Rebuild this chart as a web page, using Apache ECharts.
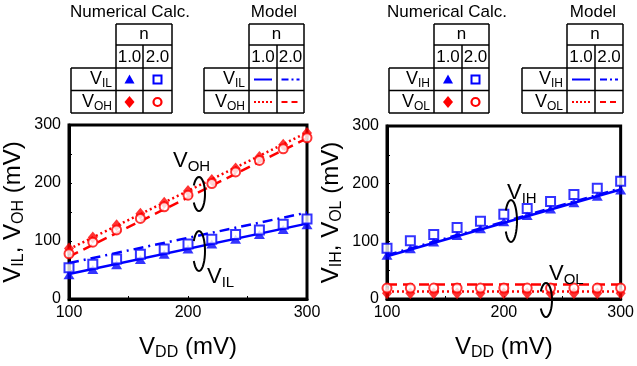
<!DOCTYPE html>
<html>
<head>
<meta charset="utf-8">
<script src="https://cdn.jsdelivr.net/npm/echarts@6/dist/echarts.min.js"></script>
<style>html,body{margin:0;padding:0;background:#fff}#chart{width:637px;height:366px}</style>
</head>
<body>
<div id="chart"></div>
<script>
// supply voltage (mV)
const vdd = [100, 120, 140, 160, 180, 200, 220, 240, 260, 280, 300];
const xTicks = [100, 200, 300];
const yTicks = [0, 100, 200, 300];

// numerical calc, left panel
const vilN1 = [42, 51, 59, 68, 77, 86, 95, 103, 111, 120, 128];
const vilN2 = [54, 60, 69, 77, 86, 95, 103, 111, 119, 129, 138];
const vohN1 = [87, 106, 127, 147, 166, 186, 205, 225, 245, 266, 286];
const vohN2 = [78, 98, 119, 139, 159, 179, 199, 219, 239, 259, 278];
// numerical calc, right panel
const vihN1 = [76, 87, 99, 110, 122, 134, 145, 156, 167, 178, 189];
const vihN2 = [88, 101, 112, 124, 135, 147, 157, 169, 181, 192, 204];
const volN1 = [10, 10, 10, 10, 10, 10, 10, 10, 10, 10, 10];
const volN2 = [19, 19, 19, 19, 19, 19, 19, 19, 19, 19, 19];

// model (straight lines, end points)
const modelX = [100, 300];
const vilModelN1 = [43, 130];
const vilModelN2 = [62, 149];
const vohModelN1 = [86, 287];
const vohModelN2 = [73, 277];
const vihModelN1 = [74, 190];
const vihModelN2 = [76, 192];
const volModelN1 = [13, 13];
const volModelN2 = [25, 25];

const BLUE = '#0000ff', RED = '#ff0000';
const FONT = 'Arial, "Liberation Sans", sans-serif';

const pairs = (xs, ys) => xs.map((x, i) => [x, ys[i]]);

let chart = echarts.init(document.getElementById('chart'), null, { renderer: 'canvas' });

const subRich = (big, small, drop) => ({
  a: { fontSize: big, fontFamily: FONT, color: '#000' },
  b: { fontSize: small, fontFamily: FONT, color: '#000', padding: [drop, 0, 0, 0] }
});

function xAxisOf(i) {
  return {
    gridIndex: i, type: 'value', min: xTicks[0], max: xTicks[xTicks.length - 1], interval: 100,
    axisLine: { lineStyle: { color: '#000', width: 3 } },
    axisTick: { inside: true, length: 3, lineStyle: { color: '#000' } },
    minorTick: { show: true, splitNumber: 2, length: 3, lineStyle: { color: '#000' } },
    splitLine: { show: false },
    axisLabel: { fontSize: 16, color: '#000', fontFamily: FONT, margin: 6 },
    name: '{a|V}{b|DD}{a| (mV)}', nameLocation: 'middle', nameGap: 34,
    nameTextStyle: { rich: subRich(24, 16, 12) }
  };
}
function yAxisOf(i, name) {
  return {
    gridIndex: i, type: 'value', min: yTicks[0], max: yTicks[yTicks.length - 1], interval: 100,
    axisLine: { lineStyle: { color: '#000', width: 3 } },
    axisTick: { inside: true, length: 3, lineStyle: { color: '#000' } },
    minorTick: { show: true, splitNumber: 2, length: 3, lineStyle: { color: '#000' } },
    splitLine: { show: false },
    axisLabel: { fontSize: 16, color: '#000', fontFamily: FONT, margin: 8 },
    name: name, nameLocation: 'middle', nameRotate: 90, nameGap: 42,
    nameTextStyle: { rich: subRich(24, 16, 12) }
  };
}

function marks(i, ys, kind) {
  const s = { type: 'scatter', xAxisIndex: i, yAxisIndex: i, data: pairs(vdd, ys), clip: false, z: 5 };
  if (kind === 'tri') Object.assign(s, { symbol: 'triangle', symbolSize: [11, 9], itemStyle: { color: BLUE } });
  if (kind === 'sq') Object.assign(s, { symbol: 'rect', symbolSize: 9, itemStyle: { color: '#fff', borderColor: BLUE, borderWidth: 2 } });
  if (kind === 'dia') Object.assign(s, { symbol: 'diamond', symbolSize: [10, 12], itemStyle: { color: RED } });
  if (kind === 'cir') Object.assign(s, { symbol: 'circle', symbolSize: 9, itemStyle: { color: '#fff', borderColor: RED, borderWidth: 2 } });
  return s;
}
function model(i, ys, color, type) {
  return {
    type: 'line', xAxisIndex: i, yAxisIndex: i, data: pairs(modelX, ys), showSymbol: false, z: 3,
    lineStyle: { color: color, width: 2.5, type: type }
  };
}

const DOT = [2, 3], DASH = [10, 6], DASHDOT = [10, 5, 2, 5];

// ---- legend tables (graphic) ----
const graphics = [];
const line = (x1, y1, x2, y2) => graphics.push({ type: 'line', shape: { x1, y1, x2, y2 }, style: { stroke: '#000', lineWidth: 1.5 } });
const text = (x, y, t, size, align) => graphics.push({ type: 'text', style: { x, y, text: t, font: size + 'px ' + FONT, fill: '#000', align: align || 'center', verticalAlign: 'middle' } });
const subText = (x, y, v, sub) => graphics.push({
  type: 'text', style: { x, y, text: '{a|' + v + '}{b|' + sub + '}', rich: subRich(18, 12, 9), align: 'right', verticalAlign: 'middle' }
});

const R = [24, 45, 68, 90.5, 113];
function table(xs, title, titleX, rowA, rowB, cells) {
  const [x0, x1, x2, x3] = xs;
  text(titleX, 12, title, 17);
  line(x1, R[0], x3, R[0]);
  line(x1, R[1], x3, R[1]);
  line(x0, R[2], x3, R[2]);
  line(x0, R[3], x3, R[3]);
  line(x0, R[4], x3, R[4]);
  line(x0, R[2], x0, R[4]);
  line(x1, R[0], x1, R[4]);
  line(x3, R[0], x3, R[4]);
  line(x2, R[1], x2, R[4]);
  text((x1 + x3) / 2, 34.5, 'n', 17);
  text((x1 + x2) / 2, 57, '1.0', 17);
  text((x2 + x3) / 2, 57, '2.0', 17);
  subText(x1 - 4, 79.5, 'V', rowA);
  subText(x1 - 4, 102, 'V', rowB);
  cells((x1 + x2) / 2, (x2 + x3) / 2, 79.5, 102);
}
const markCells = (c1, c2, ya, yb) => {
  graphics.push({ type: 'polygon', shape: { points: [[c1 - 5, ya + 4], [c1 + 5, ya + 4], [c1, ya - 5]] }, style: { fill: BLUE } });
  graphics.push({ type: 'rect', shape: { x: c2 - 4, y: ya - 4, width: 8, height: 8 }, style: { fill: '#fff', stroke: BLUE, lineWidth: 2 } });
  graphics.push({ type: 'polygon', shape: { points: [[c1, yb - 6], [c1 + 5, yb], [c1, yb + 6], [c1 - 5, yb]] }, style: { fill: RED } });
  graphics.push({ type: 'circle', shape: { cx: c2, cy: yb, r: 4 }, style: { fill: '#fff', stroke: RED, lineWidth: 2.2 } });
};
const lineCells = (c1, c2, ya, yb) => {
  const seg = (cx, y, color, dash) => graphics.push({
    type: 'line', shape: { x1: cx - 9, y1: y, x2: cx + 9, y2: y }, style: { stroke: color, lineWidth: 2, lineDash: dash }
  });
  seg(c1, ya, BLUE, null);
  seg(c2, ya, BLUE, [7, 3, 2, 3]);
  seg(c1, yb, RED, [2, 2]);
  seg(c2, yb, RED, [6, 4]);
};
table([71, 116, 143, 172], 'Numerical Calc.', 130, 'IL', 'OH', markCells);
table([204, 249, 277, 304], 'Model', 274, 'IL', 'OH', lineCells);
table([389, 434, 462, 489], 'Numerical Calc.', 447, 'IH', 'OL', markCells);
table([522, 567, 595, 623], 'Model', 593, 'IH', 'OL', lineCells);

// ---- curve annotations ----
function bracket(cx, cy, rx, ry) {
  const pts = [];
  for (let t = -150; t <= 150; t += 10) {
    const r = t * Math.PI / 180;
    pts.push([cx + rx * Math.cos(r), cy + ry * Math.sin(r)]);
  }
  graphics.push({ type: 'polyline', shape: { points: pts }, style: { stroke: '#000', lineWidth: 2, fill: null }, z: 10 });
}
function label(x, y, sub) {
  graphics.push({ type: 'text', z: 10, style: { x, y, text: '{a|V}{b|' + sub + '}', rich: subRich(22, 15, 12), align: 'left', verticalAlign: 'middle' } });
}
bracket(199, 194, 6, 17);
label(173, 161, 'OH');
bracket(199, 251, 6, 20);
label(207, 277, 'IL');
bracket(511, 221, 6, 21);
label(507, 193, 'IH');
bracket(546, 300, 6, 17);
label(549, 274, 'OL');

const option = {
  animation: false,
  backgroundColor: '#fff',
  grid: [
    { left: 69, top: 125, width: 238, height: 185, show: true, borderColor: '#000', borderWidth: 3 },
    { left: 387, top: 126, width: 239, height: 185, show: true, borderColor: '#000', borderWidth: 3 }
  ],
  xAxis: [xAxisOf(0), xAxisOf(1)],
  yAxis: [
    yAxisOf(0, '{a|V}{b|IL}{a|, V}{b|OH}{a| (mV)}'),
    yAxisOf(1, '{a|V}{b|IH}{a|, V}{b|OL}{a| (mV)}')
  ],
  series: [
    model(0, vohModelN1, RED, DOT),
    model(0, vohModelN2, RED, DASH),
    model(0, vilModelN1, BLUE, 'solid'),
    model(0, vilModelN2, BLUE, DASHDOT),
    marks(0, vohN1, 'dia'),
    marks(0, vohN2, 'cir'),
    marks(0, vilN1, 'tri'),
    marks(0, vilN2, 'sq'),
    model(1, volModelN1, RED, DOT),
    model(1, volModelN2, RED, DASH),
    model(1, vihModelN2, BLUE, DASHDOT),
    model(1, vihModelN1, BLUE, 'solid'),
    marks(1, volN1, 'dia'),
    marks(1, volN2, 'cir'),
    marks(1, vihN1, 'tri'),
    marks(1, vihN2, 'sq')
  ],
  graphic: graphics
};
chart.setOption(option);
window.addEventListener('resize', () => { chart.resize(); });
</script>
</body>
</html>
